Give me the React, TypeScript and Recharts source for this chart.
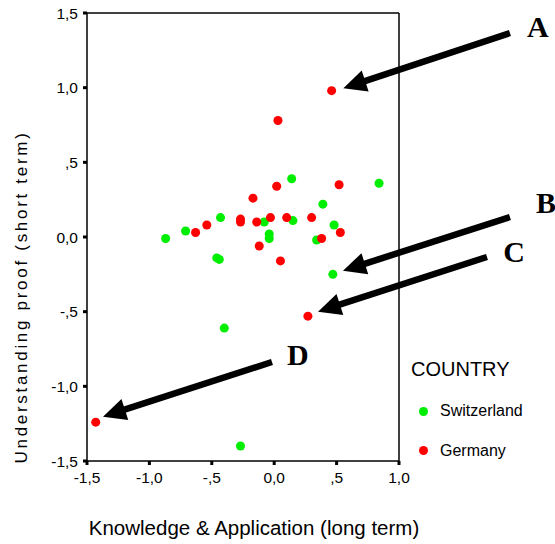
import { ScatterChart, Scatter, XAxis, YAxis, ReferenceLine, Legend, Label } from "recharts"

const switzerlandX = [0.14, 0.84, 0.39, -0.43, -0.08, 0.15, 0.48, -0.71, -0.87, -0.04, -0.04, 0.34, -0.46, -0.44, 0.47, -0.4, -0.27]
const switzerlandY = [0.39, 0.36, 0.22, 0.13, 0.1, 0.11, 0.08, 0.04, -0.01, 0.02, -0.01, -0.02, -0.14, -0.15, -0.25, -0.61, -1.4]
const germanyX = [0.46, 0.03, 0.02, 0.52, -0.17, -0.27, -0.27, -0.14, -0.03, 0.1, 0.3, 0.53, -0.54, -0.63, 0.38, -0.12, 0.05, 0.27, -1.43]
const germanyY = [0.98, 0.78, 0.34, 0.35, 0.26, 0.12, 0.1, 0.1, 0.13, 0.13, 0.13, 0.03, 0.08, 0.03, -0.01, -0.06, -0.16, -0.53, -1.24]

const countries = ["Switzerland", "Germany"]
const xTicks = [-1.5, -1, -0.5, 0, 0.5, 1]
const yTicks = [-1.5, -1, -0.5, 0, 0.5, 1, 1.5]

// annotation arrows: tail -> tip, in data units
const arrowLetters = ["A", "B", "C", "D"]
const arrowTails = [[1.889, 1.366], [1.889, 0.134], [1.705, -0.134], [-0.018, -0.837]]
const arrowTips = [[0.554, 0.996], [0.551, -0.226], [0.351, -0.5], [-1.372, -1.203]]
const letterOffsets = [[28, 4], [36, -4], [27, 5], [26, 3]]

const GREEN = "#00ee00"
const RED = "#ff0000"
const SANS = '"Liberation Sans", Arial, sans-serif'

const toPoints = (xs: number[], ys: number[]) => xs.map((x, i) => ({ x, y: ys[i] }))
const switzerland = toPoints(switzerlandX, switzerlandY)
const germany = toPoints(germanyX, germanyY)

const fmt = (v: number) => {
  const a = Math.abs(v)
  let s = a.toFixed(1).replace(".", ",")
  if (a < 1 && a !== 0) s = s.slice(1)
  return (v < 0 ? "-" : "") + s
}

const makeArrow = (idx: number) => (props: any) => {
  const { x1, y1, x2, y2 } = props
  const dx = x2 - x1
  const dy = y2 - y1
  const len = Math.sqrt(dx * dx + dy * dy)
  const ux = dx / len
  const uy = dy / len
  const headLen = 23
  const headW = 11
  const bx = x2 - ux * headLen
  const by = y2 - uy * headLen
  const px = -uy
  const py = ux
  const [ox, oy] = letterOffsets[idx]
  return (
    <g>
      <line x1={x1} y1={y1} x2={bx + ux * 2} y2={by + uy * 2} stroke="#000" strokeWidth={6.5} />
      <polygon
        points={`${x2},${y2} ${bx + px * headW},${by + py * headW} ${bx - px * headW},${by - py * headW}`}
        fill="#000"
      />
      <text
        x={x1 + ox}
        y={y1 + oy}
        textAnchor="middle"
        fontFamily='"Liberation Serif", "Times New Roman", serif'
        fontWeight="bold"
        fontSize={30}
        fill="#000"
      >
        {arrowLetters[idx]}
      </text>
    </g>
  )
}

const LegendBox = (props: any) => {
  const items = [...(props.payload || [])].sort(
    (a: any, b: any) => countries.indexOf(a.value) - countries.indexOf(b.value)
  )
  return (
    <div style={{ fontFamily: SANS, color: "#000", position: "relative", width: 150, height: 110 }}>
      <div style={{ position: "absolute", left: 11, top: 2, fontSize: 20, lineHeight: "20px" }}>COUNTRY</div>
      {items.map((it: any, i: number) => (
        <div key={i} style={{ position: "absolute", left: 0, top: 44 + i * 39.5, height: 20, display: "flex", alignItems: "center" }}>
          <span style={{ display: "inline-block", width: 9, height: 9, borderRadius: "50%", background: it.color, marginLeft: 18.5 }} />
          <span style={{ fontSize: 16, marginLeft: 12.5 }}>{it.value}</span>
        </div>
      ))}
    </div>
  )
}

export default function App() {
  return (
    <div style={{ position: "absolute", left: 0, top: 0, width: 555, height: 544, background: "#fff" }}>
      <ScatterChart width={555} height={544} margin={{ top: 13, right: 156, bottom: 0, left: 0 }}>
        <XAxis
          type="number"
          dataKey="x"
          domain={[-1.5, 1]}
          ticks={xTicks}
          tickFormatter={fmt}
          height={83}
          tickSize={4}
          tickMargin={7}
          axisLine={{ stroke: "#000", strokeWidth: 1.5 }}
          tickLine={{ stroke: "#000", strokeWidth: 3 }}
          tick={{ fill: "#000", fontSize: 15.5, fontFamily: SANS }}
          allowDataOverflow
        >
          <Label
            content={() => (
              <text x={254} y={535} textAnchor="middle" fontFamily={SANS} fontSize={20.5} fill="#000">
                Knowledge &amp; Application (long term)
              </text>
            )}
          />
        </XAxis>
        <YAxis
          type="number"
          dataKey="y"
          domain={[-1.5, 1.5]}
          ticks={yTicks}
          tickFormatter={fmt}
          width={87}
          tickSize={4}
          tickMargin={5}
          axisLine={{ stroke: "#000", strokeWidth: 1.5 }}
          tickLine={{ stroke: "#000", strokeWidth: 3 }}
          tick={{ fill: "#000", fontSize: 15.5, fontFamily: SANS }}
          allowDataOverflow
        >
          <Label
            content={() => (
              <text
                x={27}
                y={297}
                transform="rotate(-90 27 297)"
                textAnchor="middle"
                fontFamily={SANS}
                fontSize={17}
                letterSpacing={2.7}
                fill="#000"
              >
                Understanding proof (short term)
              </text>
            )}
          />
        </YAxis>
        <ReferenceLine y={1.5} stroke="#000" strokeWidth={1.5} />
        <ReferenceLine x={1} stroke="#000" strokeWidth={1.5} />
        <Scatter name="Switzerland" data={switzerland} fill={GREEN} isAnimationActive={false} />
        <Scatter name="Germany" data={germany} fill={RED} isAnimationActive={false} />
        {arrowLetters.map((l, i) => (
          <ReferenceLine
            key={l}
            segment={[
              { x: arrowTails[i][0], y: arrowTails[i][1] },
              { x: arrowTips[i][0], y: arrowTips[i][1] },
            ]}
            ifOverflow="visible"
            shape={makeArrow(i)}
          />
        ))}
        <Legend
          layout="vertical"
          align="center"
          verticalAlign="middle"
          content={LegendBox}
          wrapperStyle={{ position: "absolute", left: 400, top: 357, width: 155 }}
        />
      </ScatterChart>
    </div>
  )
}
